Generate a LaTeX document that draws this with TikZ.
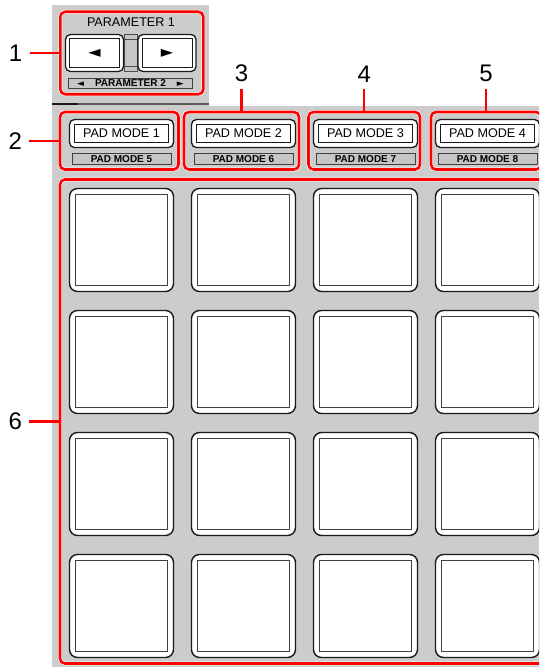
\documentclass[tikz,border=0pt]{standalone}
\usepackage{fontspec}
\setmainfont{Liberation Sans}
\newfontfamily\symfont{DejaVu Sans}
\usetikzlibrary{positioning}
\definecolor{PanelGray}{HTML}{CCCCCC}
\definecolor{BarGray}{HTML}{C6C6C6}
\definecolor{CallRed}{HTML}{FF0000}
\definecolor{KeyEdge}{HTML}{1A1A1A}
\newcommand{\keyfont}{\fontsize{12.6}{14}\selectfont}
\newcommand{\barfont}{\fontsize{10}{11}\selectfont\bfseries}
\newcommand{\numfont}{\fontsize{24}{26}\selectfont}
\newcommand{\tri}[1]{{\symfont\fontsize{9}{9}\selectfont #1}}

\begin{document}
\begin{tikzpicture}[x=1pt,y=-1pt,
  callout/.style={draw=CallRed,line width=2.6pt,rounded corners=5pt,
    preaction={draw=white,line width=3.8pt}},
  leader/.style={CallRed,line width=2.4pt},
  num/.style={font=\numfont,inner sep=0pt},
  pad/.style={draw=KeyEdge,line width=1.4pt,fill=white,rounded corners=8pt,
    minimum width=104pt,minimum height=103pt,inner sep=0pt,
    path picture={\draw[black!75,line width=1pt,sharp corners]
      ([shift={(6pt,-6pt)}]path picture bounding box.north west) rectangle
      ([shift={(-6pt,6pt)}]path picture bounding box.south east);}},
  modekey/.style={draw=KeyEdge,line width=1.3pt,fill=white,rounded corners=5pt,
    minimum width=104pt,minimum height=28pt,inner sep=0pt,font=\keyfont,
    path picture={\draw[KeyEdge,line width=1pt,sharp corners]
      ([shift={(5pt,-5pt)}]path picture bounding box.north west) rectangle
      ([shift={(-5pt,5pt)}]path picture bounding box.south east);}},
  arrowkey/.style={modekey,minimum width=58pt,minimum height=37pt,
    font=\fontsize{16}{16}\selectfont\symfont,
    path picture={\draw[KeyEdge,line width=1pt,sharp corners]
      ([shift={(4pt,-4pt)}]path picture bounding box.north west) rectangle
      ([shift={(-4pt,4pt)}]path picture bounding box.south east);}},
  modebar/.style={draw=black!75,line width=1pt,fill=BarGray,inner sep=0pt,
    minimum width=99pt,minimum height=11pt,font=\barfont},
  bridge/.style={draw=black!70,line width=0.8pt,fill=BarGray,inner sep=0pt,
    minimum width=13pt,minimum height=37pt,
    path picture={\draw[black!70,line width=0.8pt]
      ([yshift=-5pt]path picture bounding box.north west) --
      ([yshift=-5pt]path picture bounding box.north east)
      ([yshift=5pt]path picture bounding box.south west) --
      ([yshift=5pt]path picture bounding box.south east);}}]
  \useasboundingbox (0,0) rectangle (539,667);
  \clip (0,0) rectangle (539,667);

  % --- gray panel ---
  \fill[PanelGray] (52,5) rectangle (209,107);
  \fill[PanelGray] (52,106) rectangle (539,667);
  \draw[black!65,line width=1.2pt] (52,104) -- (209,104);
  \draw[KeyEdge,line width=1.8pt] (52,104) -- (78,104);

  % --- red callouts ---
  \node[callout,minimum width=143pt,minimum height=82.5pt] (cpar) at (131.8,53) {};
  \node[callout,minimum width=118.5pt,minimum height=57.5pt] (cm1) at (119.25,140.75) {};
  \node[callout,minimum width=115pt,minimum height=57.5pt] (cm2) at (241.5,140.75) {};
  \node[callout,minimum width=111.5pt,minimum height=57.5pt] (cm3) at (364.25,140.75) {};
  \node[callout,minimum width=110pt,minimum height=57.5pt] (cm4) at (486,140.75) {};
  \node[callout,minimum width=500pt,minimum height=484pt] (cpads) at (310,421.5) {};

  % --- parameter keys ---
  \node[font=\keyfont] (ptitle) at (131,22) {PARAMETER 1};
  \node[bridge] (hinge) at (130.5,53) {};
  \node[arrowkey] (pleft) at (94.5,53) {◄};
  \node[arrowkey] (pright) at (167,53) {►};
  \node[modebar,minimum width=124pt,minimum height=10.5pt] (pbar) at (130.5,83.5)
    {\tri{◄}\hspace{11pt}PARAMETER 2\hspace{11pt}\tri{►}};

  % --- pad mode keys ---
  \node[modekey] (k1) at (121.5,133.5) {PAD MODE 1};
  \node[modekey] (k2) at (243.5,133.5) {PAD MODE 2};
  \node[modekey] (k3) at (365.5,133.5) {PAD MODE 3};
  \node[modekey] (k4) at (487.5,133.5) {PAD MODE 4};
  \node[modebar] (b5) at (121.5,159) {PAD MODE 5};
  \node[modebar] (b6) at (243.5,159) {PAD MODE 6};
  \node[modebar] (b7) at (365.5,159) {PAD MODE 7};
  \node[modebar] (b8) at (487.5,159) {PAD MODE 8};

  % --- performance pads ---
  \node[pad] (p11) at (121.5,240) {};
  \node[pad] (p12) at (243.5,240) {};
  \node[pad] (p13) at (365.5,240) {};
  \node[pad] (p14) at (487.5,240) {};
  \node[pad] (p21) at (121.5,362) {};
  \node[pad] (p22) at (243.5,362) {};
  \node[pad] (p23) at (365.5,362) {};
  \node[pad] (p24) at (487.5,362) {};
  \node[pad] (p31) at (121.5,484) {};
  \node[pad] (p32) at (243.5,484) {};
  \node[pad] (p33) at (365.5,484) {};
  \node[pad] (p34) at (487.5,484) {};
  \node[pad] (p41) at (121.5,606) {};
  \node[pad] (p42) at (243.5,606) {};
  \node[pad] (p43) at (365.5,606) {};
  \node[pad] (p44) at (487.5,606) {};

  % --- numbers and leaders ---
  \node[num,left=36.5pt of cpar] (n1) {1};
  \node[num,left=36.5pt of cm1] (n2) {2};
  \node[num,above=28.5pt of cm2] (n3) {3};
  \node[num,above=28.5pt of cm3] (n4) {4};
  \node[num,above=28.5pt of cm4] (n5) {5};
  \node[num,left=36.5pt of cpads] (n6) {6};
  \draw[leader,shorten <=7pt] (n1) -- (cpar);
  \draw[leader,shorten <=7pt] (n2) -- (cm1);
  \draw[leader,shorten <=7pt] (n3) -- (cm2);
  \draw[leader,shorten <=7pt] (n4) -- (cm3);
  \draw[leader,shorten <=7pt] (n5) -- (cm4);
  \draw[leader,shorten <=7pt] (n6) -- (cpads);
\end{tikzpicture}
\end{document}
